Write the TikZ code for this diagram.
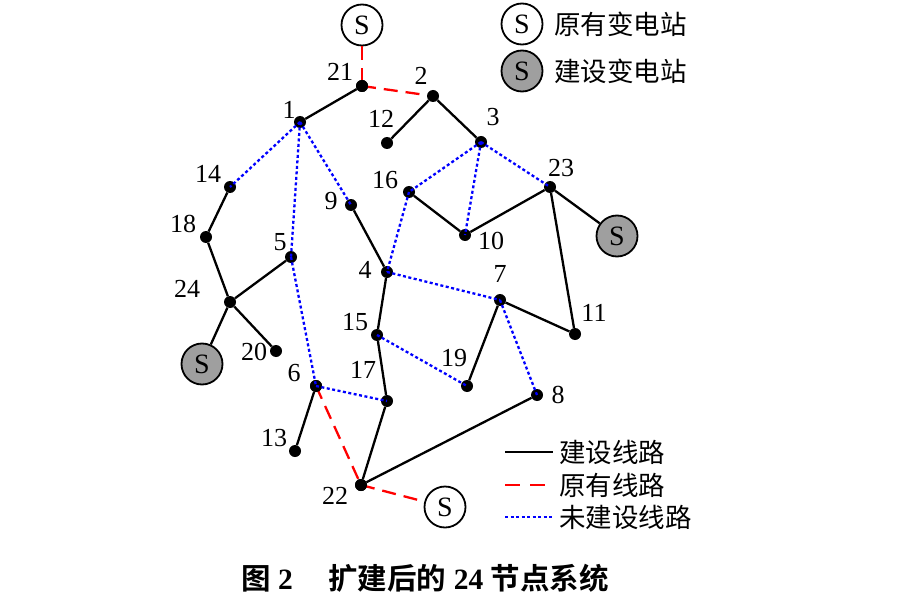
\documentclass[tikz,border=0pt]{standalone}
\usepackage{fontspec}
\setmainfont{Liberation Serif}
\newfontfamily\cjk{Noto Sans CJK SC}
\newfontfamily\cjkb{Noto Sans CJK SC Bold}
\begin{document}
\begin{tikzpicture}[x=1pt,y=-1pt,
  dot/.style={circle,fill=black,inner sep=0pt,minimum size=12pt},
  sub/.style={circle,draw=black,line width=1.8pt,minimum size=41pt,inner sep=0pt,font=\fontsize{28}{28}\selectfont},
  newsub/.style={sub,fill=gray!75},
  lab/.style={font=\fontsize{26}{26}\selectfont,inner sep=0pt},
  built/.style={line width=2.3pt,black},
  old/.style={line width=2.3pt,red,dash pattern=on 14pt off 8pt},
  plan/.style={line width=2.3pt,blue,dash pattern=on 3pt off 2.5pt},
  leg/.style={font=\cjk\fontsize{26.5}{26.5}\selectfont,anchor=west,inner sep=0pt}]
\useasboundingbox (0,0) rectangle (920,604);
% substations
\node[sub] (St) at (362,25) {S};
\node[newsub] (Sr) at (617,236) {S};
\node[newsub] (Sl) at (202,364) {S};
\node[sub] (Sb) at (445,507) {S};
% buses
\node[dot] (n1) at (300,122) {};
\node[dot] (n2) at (433,96) {};
\node[dot] (n3) at (481,142) {};
\node[dot] (n4) at (387,272) {};
\node[dot] (n5) at (291,257) {};
\node[dot] (n6) at (316,386) {};
\node[dot] (n7) at (500,300) {};
\node[dot] (n8) at (537,395) {};
\node[dot] (n9) at (351,205) {};
\node[dot] (n10) at (465,235) {};
\node[dot] (n11) at (575,334) {};
\node[dot] (n12) at (387,143) {};
\node[dot] (n13) at (295,451) {};
\node[dot] (n14) at (230,187) {};
\node[dot] (n15) at (377,335) {};
\node[dot] (n16) at (409,192) {};
\node[dot] (n17) at (387,401) {};
\node[dot] (n18) at (206,237) {};
\node[dot] (n19) at (467,386) {};
\node[dot] (n20) at (276,351) {};
\node[dot] (n21) at (362,86) {};
\node[dot] (n22) at (361,485) {};
\node[dot] (n23) at (550,187) {};
\node[dot] (n24) at (230,302) {};
% labels
\node[lab] (l1) at (289,110) {1};
\node[lab] (l2) at (421,76) {2};
\node[lab] (l3) at (493,117) {3};
\node[lab] (l4) at (365,270) {4};
\node[lab] (l5) at (280,242) {5};
\node[lab] (l6) at (294,373) {6};
\node[lab] (l7) at (500,274) {7};
\node[lab] (l8) at (558,395) {8};
\node[lab] (l9) at (331,201) {9};
\node[lab] (l10) at (491,241) {10};
\node[lab] (l11) at (594,313) {11};
\node[lab] (l12) at (381,119) {12};
\node[lab] (l13) at (274,438) {13};
\node[lab] (l14) at (208,174) {14};
\node[lab] (l15) at (355,322) {15};
\node[lab] (l16) at (385,180) {16};
\node[lab] (l17) at (363,370) {17};
\node[lab] (l18) at (183,224) {18};
\node[lab] (l19) at (454,358) {19};
\node[lab] (l20) at (254,352) {20};
\node[lab] (l21) at (340,72) {21};
\node[lab] (l22) at (335,496) {22};
\node[lab] (l23) at (561,168) {23};
\node[lab] (l24) at (187,289) {24};
% built lines
\draw[built] (n21)--(n1);
\draw[built] (n2)--(n12);
\draw[built] (n2)--(n3);
\draw[built] (n14)--(n18);
\draw[built] (n18)--(n24);
\draw[built] (n24)--(n5);
\draw[built] (n24)--(n20);
\draw[built] (n24)--(Sl);
\draw[built] (n9)--(n4);
\draw[built] (n16)--(n10);
\draw[built] (n10)--(n23);
\draw[built] (n23)--(Sr);
\draw[built] (n23)--(n11);
\draw[built] (n4)--(n15);
\draw[built] (n15)--(n17);
\draw[built] (n7)--(n19);
\draw[built] (n7)--(n11);
\draw[built] (n17)--(n22);
\draw[built] (n22)--(n8);
\draw[built] (n6)--(n13);
% existing lines
\draw[old] (St)--(n21);
\draw[old] (n21.center)--(n2);
\draw[old] (n6.center)--(n22.center);
\draw[old] (n22.center)--(Sb);
% redraw dots on top
\foreach \k in {6,21,22}{\fill (n\k) circle (6pt);}
% planned lines
\draw[plan] (n1.center)--(n14.center);
\draw[plan] (n1.center)--(n5.center);
\draw[plan] (n1.center)--(n9.center);
\draw[plan] (n3.center)--(n16.center);
\draw[plan] (n3.center)--(n10.center);
\draw[plan] (n3.center)--(n23.center);
\draw[plan] (n16.center)--(n4.center);
\draw[plan] (n4.center)--(n7.center);
\draw[plan] (n5.center)--(n6.center);
\draw[plan] (n6.center)--(n17.center);
\draw[plan] (n15.center)--(n19.center);
\draw[plan] (n7.center)--(n8.center);
% legend
\node[sub] (LS1) at (522,24) {S};
\node[leg] (LT1) at (554,24) {原有变电站};
\node[newsub] (LS2) at (522,71) {S};
\node[leg] (LT2) at (554,71) {建设变电站};
\coordinate (a1) at (505,452); \coordinate (b1) at (553,452);
\coordinate (a2) at (505,485); \coordinate (b2) at (553,485);
\coordinate (a3) at (505,517); \coordinate (b3) at (553,517);
\draw[built] (a1)--(b1);
\draw[old,dash pattern=on 15pt off 10pt] (a2)--(b2);
\draw[plan] (a3)--(b3);
\node[leg] (LL1) at (559,452) {建设线路};
\node[leg] (LL2) at (559,485) {原有线路};
\node[leg] (LL3) at (559,517) {未建设线路};
% caption
\node[inner sep=0pt] (cap) at (425,578) {\fontsize{29.5}{29.5}\selectfont{\cjkb 图} \textbf{2}\hspace{1.2em}{\cjkb 扩建后的} \textbf{24} {\cjkb 节点系统}};
\end{tikzpicture}
\end{document}
